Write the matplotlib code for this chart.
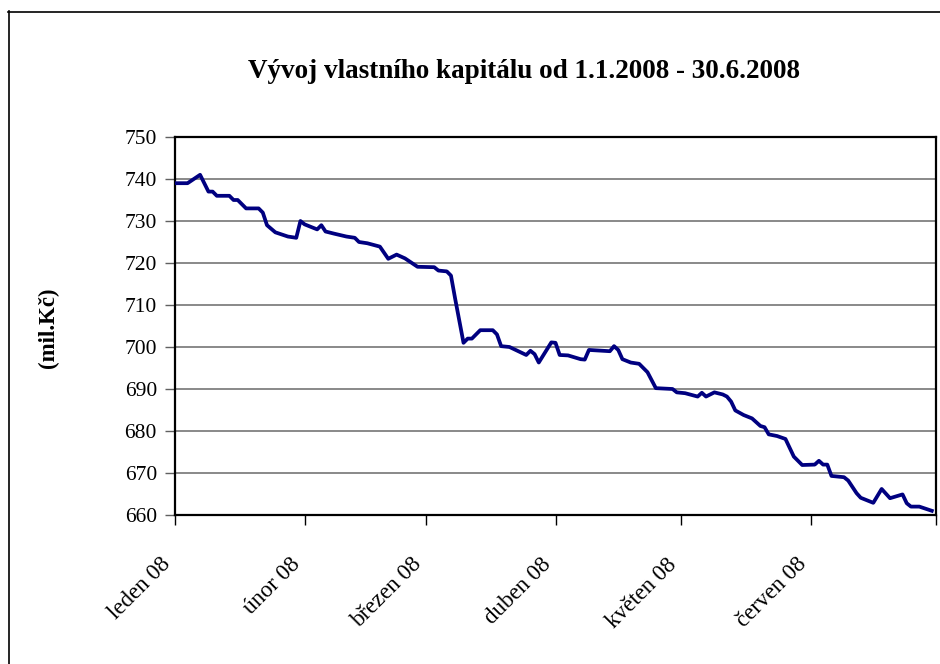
# -*- coding: utf-8 -*-
# Vývoj vlastního kapitálu 1.1.2008 - 30.6.2008 (mil. Kč)
import numpy as np
import pandas as pd
import matplotlib
matplotlib.use("Agg")
import matplotlib.pyplot as plt
from matplotlib.lines import Line2D

# ---------------------------------------------------------------------------
# data
# ---------------------------------------------------------------------------
dates = [
    "2008-01-01", "2008-01-04", "2008-01-07", "2008-01-09", "2008-01-10", "2008-01-11",
    "2008-01-14", "2008-01-15", "2008-01-16", "2008-01-18", "2008-01-21", "2008-01-22",
    "2008-01-23", "2008-01-25", "2008-01-28", "2008-01-30", "2008-01-31", "2008-02-01",
    "2008-02-04", "2008-02-05", "2008-02-06", "2008-02-08", "2008-02-11", "2008-02-13",
    "2008-02-14", "2008-02-16", "2008-02-19", "2008-02-21", "2008-02-23", "2008-02-25",
    "2008-02-28", "2008-03-03", "2008-03-04", "2008-03-06", "2008-03-07", "2008-03-08",
    "2008-03-10", "2008-03-11", "2008-03-12", "2008-03-14", "2008-03-17", "2008-03-18",
    "2008-03-19", "2008-03-21", "2008-03-25", "2008-03-26", "2008-03-27", "2008-03-28",
    "2008-03-31", "2008-04-01", "2008-04-02", "2008-04-04", "2008-04-07", "2008-04-08",
    "2008-04-09", "2008-04-14", "2008-04-15", "2008-04-16", "2008-04-17", "2008-04-19",
    "2008-04-21", "2008-04-22", "2008-04-23", "2008-04-24", "2008-04-25", "2008-04-29",
    "2008-04-30", "2008-05-02", "2008-05-05", "2008-05-06", "2008-05-07", "2008-05-09",
    "2008-05-11", "2008-05-12", "2008-05-13", "2008-05-14", "2008-05-16", "2008-05-18",
    "2008-05-20", "2008-05-21", "2008-05-22", "2008-05-24", "2008-05-26", "2008-05-28",
    "2008-05-30", "2008-06-02", "2008-06-03", "2008-06-04", "2008-06-05", "2008-06-06",
    "2008-06-09", "2008-06-10", "2008-06-12", "2008-06-13", "2008-06-16", "2008-06-18",
    "2008-06-20", "2008-06-23", "2008-06-24", "2008-06-25", "2008-06-27", "2008-06-30",
]
kapital = [
    739, 739, 741, 737, 737, 736,
    736, 735, 735, 733, 733, 732,
    729, 727.3, 726.3, 726, 730, 729.2,
    728, 729, 727.5, 727, 726.3, 726,
    725, 724.7, 723.9, 721, 722, 721.1,
    719.1, 719, 718.2, 718, 717, 711.5,
    701, 702, 702, 704, 704, 703,
    700.2, 700, 698.1, 699.1, 698.3, 696.3,
    701.1, 701, 698.1, 698, 697.1, 697,
    699.3, 699, 700.2, 699.3, 697.1, 696.3,
    696, 695, 694, 692.1, 690.2, 690,
    689.2, 689, 688.2, 689.1, 688.2, 689.2,
    688.7, 688.2, 687, 684.9, 683.8, 683,
    681.2, 680.9, 679.2, 678.8, 678.1, 673.9,
    671.9, 672, 672.9, 672, 672, 669.3,
    669, 668.2, 665.2, 664.1, 662.9, 666.2,
    664, 664.9, 662.8, 662, 662, 661,
]
mesice = ["leden 08", "únor 08", "březen 08", "duben 08", "květen 08", "červen 08"]
mesice_start = ["2008-01-01", "2008-02-01", "2008-03-01", "2008-04-01", "2008-05-01", "2008-06-01"]
y_ticks = [660, 670, 680, 690, 700, 710, 720, 730, 740, 750]

TITLE = "Vývoj vlastního kapitálu od 1.1.2008 - 30.6.2008"
YLABEL = "(mil.Kč)"

# ---------------------------------------------------------------------------
# graf
# ---------------------------------------------------------------------------
plt.rcParams["font.family"] = ["Liberation Serif", "DejaVu Serif"]

W, H = 940, 664
fig = plt.figure(figsize=(W / 100, H / 100), dpi=100)
fig.patch.set_facecolor("white")

# rámeček oblasti grafu (jako v Excelu, vpravo a dole oříznutý)
fig.add_artist(Line2D([8.5 / W, 8.5 / W], [0, 1 - 11 / H], transform=fig.transFigure,
                      color="black", lw=1.2))
fig.add_artist(Line2D([8 / W, 1], [1 - 11.5 / H, 1 - 11.5 / H], transform=fig.transFigure,
                      color="black", lw=1.2))

left, right, top, bottom = 175 / W, 936 / W, 1 - 137 / H, 1 - 515 / H
ax = fig.add_axes([left, bottom, right - left, top - bottom])

x = pd.to_datetime(dates)
ax.plot(x, kapital, color="#000080", lw=2.7, solid_joinstyle="round", zorder=3)

ax.set_xlim(pd.Timestamp("2008-01-01"), pd.Timestamp("2008-07-01"))
ax.set_ylim(660, 750)
ax.set_yticks(y_ticks)
ax.set_yticklabels([str(v) for v in y_ticks], fontsize=15.5)
ax.yaxis.grid(True, color="#808080", lw=1.3)
ax.set_axisbelow(True)

ax.set_xticks(pd.to_datetime(mesice_start + ["2008-07-01"]))
ax.set_xticklabels(mesice + [""], rotation=45, ha="right", va="top", fontsize=16.5)
ax.tick_params(axis="x", length=7, width=1, pad=21, color="black")
ax.tick_params(axis="y", length=7, width=1, pad=6, color="#606060")

for s in ax.spines.values():
    s.set_color("black")
    s.set_linewidth(1.6)

fig.text(524 / W, 1 - 71 / H, TITLE, ha="center", va="center",
         fontsize=19.5, fontweight="bold")
fig.text(48 / W, 1 - 328 / H, YLABEL, ha="center", va="center",
         rotation=90, fontsize=16.5, fontweight="bold")

fig.savefig("out.png", dpi=100)
